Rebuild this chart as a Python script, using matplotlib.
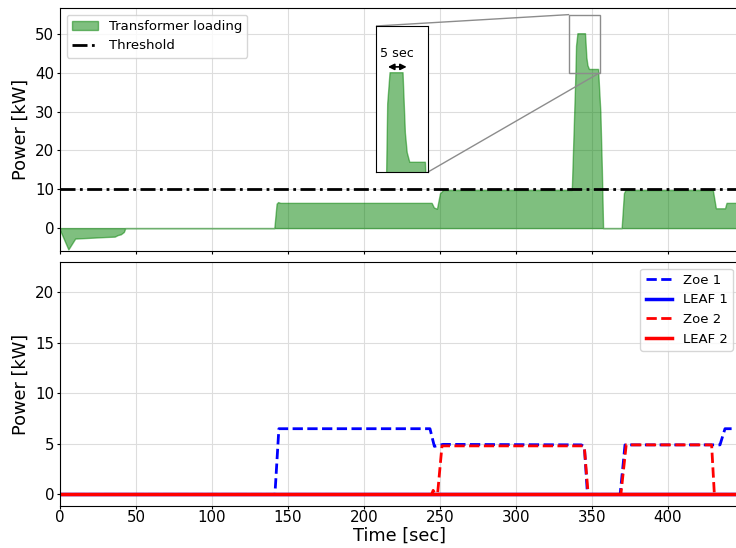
import matplotlib
matplotlib.use("Agg")
import matplotlib.pyplot as plt
from mpl_toolkits.axes_grid1.inset_locator import mark_inset

# Transformer loading profile [kW] over time [sec]
load_t = [0, 5.5, 10, 20, 30, 36, 38, 40, 42, 43, 141, 142.5, 143.5, 145,
          244.5, 246, 248, 250, 252, 336.6, 336.8, 339.1, 339.5, 340.4,
          345.4, 346.3, 347.0, 348.0, 354.0, 355.5, 356.5, 357.3, 369.5,
          371.0, 372.0, 429.5, 431.5, 437.5, 438.5, 447]
load_kw = [-0.5, -5.5, -2.7, -2.5, -2.3, -2.2, -1.8, -1.6, -1.0, 0, 0, 6.3,
           6.7, 6.5, 6.5, 5.3, 5.0, 9.0, 9.8, 9.8, 11.0, 40.0, 47.0, 50.2,
           50.2, 44.0, 42.0, 41.0, 41.0, 30.0, 15.0, 0, 0, 9.0, 9.8, 9.8,
           5.1, 5.1, 6.5, 6.5]
threshold_kw = 10

# Charging power of each EV [kW]
zoe1_t = [0, 141.4, 144.0, 243.4, 246.3, 252.0, 343.0, 345.0, 347.0, 368.5,
          370.5, 371.7, 434.2, 437.5, 447]
zoe1_kw = [0, 0, 6.5, 6.5, 4.75, 4.95, 4.9, 4.7, 0, 0, 3.0, 4.9, 4.9, 6.5, 6.5]

zoe2_t = [0, 244.5, 245.5, 246.5, 248.5, 251.3, 344.0, 345.0, 347.5, 369.0,
          372.5, 428.7, 430.5, 447]
zoe2_kw = [0, 0, 0.4, 0.1, 0.2, 4.8, 4.8, 4.6, 0, 0, 4.9, 4.9, 0, 0]

leaf1_t = [0, 447]
leaf1_kw = [0, 0]
leaf2_t = [0, 447]
leaf2_kw = [0, 0]

T_MAX = 447
W, H = 736, 548
fig = plt.figure(figsize=(W / 100, H / 100), dpi=100)


def px_axes(left, top, right, bottom):
    return fig.add_axes([left / W, 1 - bottom / H, (right - left) / W, (bottom - top) / H])


x_right = 60 + T_MAX * 1.52
ax1 = px_axes(60, 8, x_right, 251)
ax2 = px_axes(60, 262, x_right, 506)
ax_w = x_right - 60

LABEL_SIZE = 12.8
TICK_SIZE = 10.8

for ax in (ax1, ax2):
    ax.tick_params(labelsize=TICK_SIZE, length=2.5)
    ax.tick_params(axis="x", pad=0.4)
    ax.tick_params(axis="y", pad=1.8)
    ax.grid(True, color="#dddddd", linewidth=0.8)
    ax.set_axisbelow(True)
    ax.set_xlim(0, T_MAX)
    ax.set_xticks(range(0, 401, 50))

# Top panel: transformer loading and threshold
ax1.fill_between(load_t, 0, load_kw, color="green", alpha=0.5, label="Transformer loading")
ax1.axhline(threshold_kw, color="black", linestyle=(0, (5.4, 1.6, 1, 1.6)),
            linewidth=2, label="Threshold")
ax1.set_ylim(-5.9, 56.7)
ax1.set_yticks([0, 10, 20, 30, 40, 50])
ax1.tick_params(labelbottom=False)
ax1.set_ylabel("Power [kW]", fontsize=LABEL_SIZE)
ax1.yaxis.set_label_coords(-0.045, 0.5)
ax1.legend(loc="upper left", fontsize=9.5)

# Zoomed view of the peak
axins = ax1.inset_axes([(376 - 60) / ax_w, (251 - 172) / 243, 52 / ax_w, 146 / 243])
axins.fill_between(load_t, 0, load_kw, color="green", alpha=0.5)
axins.set_xlim(335, 355)
axins.set_ylim(40, 55)
axins.set_xticks([])
axins.set_yticks([])
axins.annotate("", xy=(346.8, 50.8), xytext=(339.6, 50.8),
               arrowprops=dict(arrowstyle="<|-|>", color="black", lw=1.2,
                               mutation_scale=9, shrinkA=0, shrinkB=0))
axins.text(343.2, 51.5, "5 sec", ha="center", va="bottom", fontsize=9.2)
mark_inset(ax1, axins, loc1=2, loc2=4, fc="none", ec="0.55")

# Bottom panel: per-vehicle charging power
ax2.plot(zoe1_t, zoe1_kw, color="blue", linestyle="--", linewidth=2, label="Zoe 1")
ax2.plot(leaf1_t, leaf1_kw, color="blue", linestyle="-", linewidth=2.5, label="LEAF 1")
ax2.plot(zoe2_t, zoe2_kw, color="red", linestyle="--", linewidth=2, label="Zoe 2")
ax2.plot(leaf2_t, leaf2_kw, color="red", linestyle="-", linewidth=2.5, label="LEAF 2")
ax2.set_ylim(-1.15, 23)
ax2.set_yticks([0, 5, 10, 15, 20])
ax2.set_xlabel("Time [sec]", fontsize=LABEL_SIZE)
ax2.xaxis.set_label_coords(0.5, -0.086)
ax2.set_ylabel("Power [kW]", fontsize=LABEL_SIZE)
ax2.yaxis.set_label_coords(-0.045, 0.5)
ax2.legend(loc="upper right", fontsize=9.5)

fig.savefig("out.png", dpi=100)
